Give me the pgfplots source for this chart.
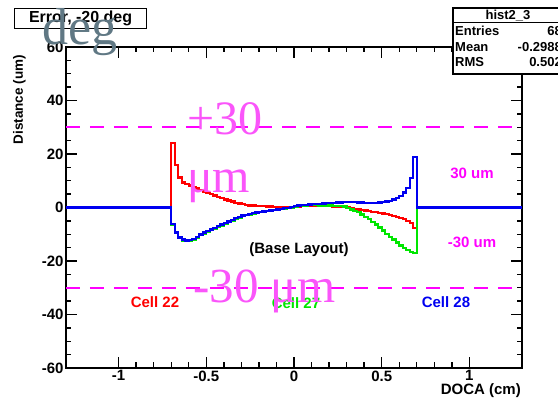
\documentclass[border=0pt]{standalone}
\usepackage{pgfplots}
\pgfplotsset{compat=1.18}
\usepackage{pgfplotstable}
\usepackage{fontspec}
\setmainfont{Liberation Sans}
\newfontfamily\bigserif{Liberation Serif}
\definecolor{rootmag}{RGB}{255,0,255}
\definecolor{bigmag}{RGB}{250,85,250}
\definecolor{greyblue}{RGB}{96,120,132}
\definecolor{rootgreen}{RGB}{0,230,0}
\definecolor{rootblue}{RGB}{0,0,240}

% left bin edge, Cell 22 (red), Cell 27 (green), Cell 28 (blue)
\pgfplotstableread{
x r g b
-1.30 0 0 0
-0.70 24 -6.5 -6.3
-0.68 16 -9.6 -9.3
-0.66 11.2 -11.5 -11.2
-0.64 9.3 -12.3 -12.0
-0.62 8.8 -12.6 -12.3
-0.60 8.2 -12.5 -12.2
-0.58 7.7 -12.0 -11.7
-0.56 7.1 -11.2 -10.9
-0.54 6.5 -10.4 -10.1
-0.52 6.0 -9.7 -9.4
-0.50 5.5 -9.1 -8.8
-0.48 5.0 -8.5 -8.2
-0.46 4.5 -7.9 -7.6
-0.44 4.0 -7.3 -7.0
-0.42 3.5 -6.7 -6.4
-0.40 3.0 -6.1 -5.8
-0.38 2.6 -5.5 -5.2
-0.36 2.2 -4.9 -4.6
-0.34 1.8 -4.3 -4.0
-0.32 1.5 -3.8 -3.5
-0.30 1.2 -3.3 -3.0
-0.28 1.0 -2.9 -2.7
-0.26 0.8 -2.6 -2.4
-0.24 0.7 -2.3 -2.1
-0.22 0.6 -2.0 -1.9
-0.20 0.5 -1.8 -1.7
-0.18 0.5 -1.6 -1.5
-0.16 0.4 -1.4 -1.3
-0.14 0.4 -1.2 -1.1
-0.12 0.3 -1.0 -0.9
-0.10 0.3 -0.8 -0.7
-0.08 0.3 -0.6 -0.5
-0.06 0.3 -0.4 -0.3
-0.04 0.3 -0.2 -0.1
-0.02 0.3 0.0 0.1
0.00 0.4 0.3 0.5
0.02 0.4 0.5 0.7
0.04 0.5 0.7 0.9
0.06 0.5 0.8 1.0
0.08 0.5 0.9 1.1
0.10 0.5 0.9 1.2
0.12 0.5 0.9 1.3
0.14 0.5 0.8 1.4
0.16 0.5 0.8 1.5
0.18 0.5 0.7 1.6
0.20 0.5 0.7 1.7
0.22 0.4 0.6 1.8
0.24 0.4 0.6 1.9
0.26 0.3 0.5 1.9
0.28 0.2 0.4 2.0
0.30 0.0 -0.1 2.0
0.32 -0.3 -0.7 2.0
0.34 -0.5 -1.3 2.0
0.36 -0.7 -1.8 1.9
0.38 -0.9 -2.6 1.9
0.40 -1.1 -3.5 1.8
0.42 -1.3 -4.4 1.8
0.44 -1.6 -5.4 1.8
0.46 -1.8 -6.4 1.8
0.48 -2.0 -7.5 1.9
0.50 -2.3 -8.6 2.0
0.52 -2.5 -9.8 2.2
0.54 -2.8 -10.9 2.5
0.56 -3.1 -12.0 3.0
0.58 -3.5 -13.1 3.6
0.60 -3.9 -14.2 4.4
0.62 -4.4 -15.1 5.6
0.64 -5.0 -15.9 7.3
0.66 -5.9 -16.6 11.0
0.68 -7.6 -16.9 19.0
0.70 0 0 0
1.30 0 0 0
}\histdata

\begin{document}
\begin{tikzpicture}
\begin{axis}[
  name=ax, at={(0,0)}, anchor=south west,
  scale only axis, width=456pt, height=321pt,
  xmin=-1.3, xmax=1.3, ymin=-60, ymax=60,
  xtick={-1,-0.5,0,0.5,1}, xticklabels={-1,-0.5,0,0.5,1},
  ytick={-60,-40,-20,0,20,40,60}, yticklabels={-60,-40,-20,0,20,40,60},
  minor x tick num=4, minor y tick num=3,
  tick align=inside,
  major tick length=11pt, minor tick length=5.5pt,
  every tick/.style={black, line width=1.4pt},
  axis line style={line width=2.2pt},
  tick label style={font=\fontsize{15}{17}\selectfont\bfseries},
  /pgf/number format/assume math mode=true,
  xticklabel style={yshift=1pt},
  yticklabel style={xshift=1pt},
  clip=false,
]
\addplot[rootmag, line width=2pt, dash pattern=on 14pt off 10pt] coordinates {(-1.3,30) (1.3,30)};
\addplot[rootmag, line width=2pt, dash pattern=on 14pt off 10pt] coordinates {(-1.3,-30) (1.3,-30)};
\addplot[red, line width=2.3pt, const plot] table[x=x, y=r] {\histdata};
\addplot[rootgreen, line width=2.3pt, const plot] table[x=x, y=g] {\histdata};
\addplot[rootblue, line width=2.3pt, const plot] table[x=x, y=b] {\histdata};
\end{axis}

\begin{scope}[shift={(ax.south west)}, font=\fontsize{15}{17}\selectfont\bfseries]
% inline labels
\node[anchor=center, inner sep=0] at (233pt,118pt) {(Base Layout)};
\node[anchor=center, inner sep=0, text=rootmag] at (406pt,195pt) {30 um};
\node[anchor=center, inner sep=0, text=rootmag] at (406pt,126pt) {-30 um};
\node[anchor=center, inner sep=0, text=red] at (89pt,66pt) {Cell 22};
\node[anchor=center, inner sep=0, text=rootgreen] at (230pt,65pt) {Cell 27};
\node[anchor=center, inner sep=0, text=rootblue] at (380pt,66pt) {Cell 28};
% axis titles
\node[anchor=base east, inner sep=0] at (455pt,-27pt) {DOCA (cm)};
\node[anchor=base east, inner sep=0, rotate=90, font=\fontsize{13.5}{15}\selectfont\bfseries] at (-43pt,313pt) {Distance (um)};
% title box
\node[draw, line width=1.2pt, fill=white, minimum width=132pt, minimum height=20pt, anchor=north west, inner sep=0, font=\fontsize{16}{18}\selectfont\bfseries] at (-52pt,360pt) {Error, -20 deg};
% stats box
\draw[line width=1.2pt, fill=white] (387pt,294pt) rectangle (497pt,360pt);
\draw[line width=1.0pt] (387pt,345.3pt) -- (497pt,345.3pt);
\begin{scope}[font=\fontsize{13}{15}\selectfont\bfseries]
\node[anchor=base, inner sep=0] at (442pt,348.5pt) {hist2\_3};
\node[anchor=base west, inner sep=0] at (389pt,332pt) {Entries};
\node[anchor=base west, inner sep=0] at (389pt,316pt) {Mean};
\node[anchor=base west, inner sep=0] at (389pt,301pt) {RMS};
\node[anchor=base east, inner sep=0] at (496pt,332pt) {68};
\node[anchor=base east, inner sep=0] at (496pt,316pt) {-0.2988};
\node[anchor=base east, inner sep=0] at (496pt,301pt) {0.502};
\end{scope}
% large overlay texts
\node[anchor=base west, inner sep=0, text=greyblue, font=\bigserif\fontsize{52}{52}\selectfont] at (-24pt,323pt) {deg};
\node[anchor=base west, inner sep=0, text=bigmag, font=\bigserif\fontsize{48}{48}\selectfont] at (121pt,233pt) {+30};
\node[anchor=base west, inner sep=0, text=bigmag, font=\bigserif\fontsize{48}{48}\selectfont] at (121pt,175pt) {μm};
\node[anchor=base west, inner sep=0, text=bigmag, font=\bigserif\fontsize{49}{49}\selectfont] at (127pt,65pt) {-30 μm};
\end{scope}
\pgfresetboundingbox
\useasboundingbox ([shift={(-66pt,-36pt)}]ax.south west) rectangle ([shift={(492pt,368pt)}]ax.south west);
\end{tikzpicture}
\end{document}
